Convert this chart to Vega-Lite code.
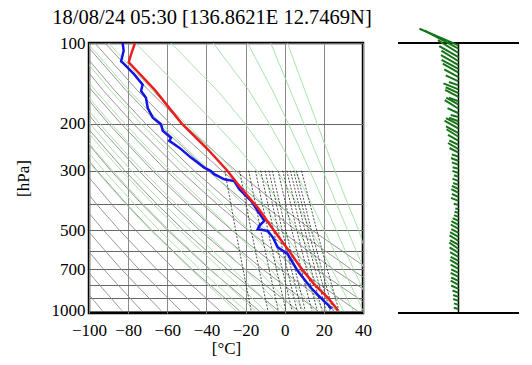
{
  "$schema": "https://vega.github.io/schema/vega-lite/v6.json",
  "padding": {"left": 12, "top": 6, "right": 0, "bottom": 0},
  "bounds": "flush",
  "spacing": 35,
  "config": {
    "font": "Liberation Serif",
    "axis": {"labelFont": "Liberation Serif", "titleFont": "Liberation Serif", "labelColor": "black", "titleColor": "black", "titleFontWeight": "normal", "labelFontSize": 17, "titleFontSize": 17},
    "title": {"font": "Liberation Serif", "fontWeight": "normal", "fontSize": 20.5, "color": "black"}
  },
  "datasets": {
    "dry": [
      {"th":180,"p":700,"t":-110.6},{"th":180,"p":850,"t":-101.3},{"th":180,"p":1000,"t":-93.15},
      {"th":190,"p":500,"t":-117.3},{"th":190,"p":700,"t":-101.6},{"th":190,"p":1000,"t":-83.15},
      {"th":200,"p":500,"t":-109.1},{"th":200,"p":700,"t":-92.55},{"th":200,"p":1000,"t":-73.15},
      {"th":210,"p":400,"t":-111.5},{"th":210,"p":500,"t":-100.9},{"th":210,"p":700,"t":-83.5},{"th":210,"p":1000,"t":-63.15},
      {"th":220,"p":400,"t":-103.8},{"th":220,"p":500,"t":-92.7},{"th":220,"p":700,"t":-74.5},{"th":220,"p":1000,"t":-53.15},
      {"th":230,"p":300,"t":-110.1},{"th":230,"p":400,"t":-96.1},{"th":230,"p":500,"t":-84.5},{"th":230,"p":700,"t":-65.45},{"th":230,"p":1000,"t":-43.15},
      {"th":240,"p":300,"t":-103.0},{"th":240,"p":400,"t":-88.4},{"th":240,"p":500,"t":-76.3},{"th":240,"p":700,"t":-56.4},{"th":240,"p":1000,"t":-33.15},
      {"th":250,"p":200,"t":-115.3},{"th":250,"p":300,"t":-95.9},{"th":250,"p":400,"t":-80.7},{"th":250,"p":500,"t":-68.1},{"th":250,"p":700,"t":-47.4},{"th":250,"p":1000,"t":-23.15},
      {"th":260,"p":200,"t":-109.0},{"th":260,"p":300,"t":-88.8},{"th":260,"p":400,"t":-73.0},{"th":260,"p":500,"t":-59.9},{"th":260,"p":700,"t":-38.4},{"th":260,"p":1000,"t":-13.15},
      {"th":270,"p":200,"t":-102.7},{"th":270,"p":300,"t":-81.7},{"th":270,"p":400,"t":-65.3},{"th":270,"p":500,"t":-51.7},{"th":270,"p":700,"t":-29.3},{"th":270,"p":1000,"t":-3.15},
      {"th":280,"p":150,"t":-110.3},{"th":280,"p":200,"t":-96.4},{"th":280,"p":300,"t":-74.6},{"th":280,"p":400,"t":-57.6},{"th":280,"p":500,"t":-43.5},{"th":280,"p":700,"t":-20.3},{"th":280,"p":1000,"t":6.85},
      {"th":290,"p":150,"t":-104.5},{"th":290,"p":200,"t":-90.1},{"th":290,"p":300,"t":-67.5},{"th":290,"p":400,"t":-49.9},{"th":290,"p":500,"t":-35.3},{"th":290,"p":700,"t":-11.3},{"th":290,"p":1000,"t":16.85},
      {"th":300,"p":100,"t":-117.8},{"th":300,"p":150,"t":-98.7},{"th":300,"p":200,"t":-83.7},{"th":300,"p":300,"t":-60.45},{"th":300,"p":400,"t":-42.2},{"th":300,"p":500,"t":-27.1},{"th":300,"p":700,"t":-2.25},{"th":300,"p":1000,"t":26.85},
      {"th":310,"p":100,"t":-112.6},{"th":310,"p":150,"t":-92.85},{"th":310,"p":200,"t":-77.4},{"th":310,"p":300,"t":-53.35},{"th":310,"p":400,"t":-34.5},{"th":310,"p":500,"t":-18.9},{"th":310,"p":700,"t":6.8},{"th":310,"p":1000,"t":36.85},
      {"th":320,"p":100,"t":-107.4},{"th":320,"p":150,"t":-87.05},{"th":320,"p":200,"t":-71.1},{"th":320,"p":300,"t":-46.3},{"th":320,"p":400,"t":-26.85},{"th":320,"p":500,"t":-10.7},{"th":320,"p":700,"t":15.8},{"th":320,"p":1000,"t":46.85},
      {"th":330,"p":100,"t":-102.2},{"th":330,"p":150,"t":-81.2},{"th":330,"p":200,"t":-64.8},{"th":330,"p":300,"t":-39.2},{"th":330,"p":400,"t":-19.15},{"th":330,"p":500,"t":-2.5},{"th":330,"p":700,"t":24.8},{"th":330,"p":1000,"t":56.85},
      {"th":340,"p":100,"t":-97.05},{"th":340,"p":150,"t":-75.4},{"th":340,"p":200,"t":-58.5},{"th":340,"p":300,"t":-32.1},{"th":340,"p":400,"t":-11.45},{"th":340,"p":500,"t":5.7},{"th":340,"p":700,"t":33.9},{"th":340,"p":1000,"t":66.85},
      {"th":350,"p":100,"t":-91.85},{"th":350,"p":150,"t":-69.6},{"th":350,"p":200,"t":-52.15},{"th":350,"p":300,"t":-25.0},{"th":350,"p":400,"t":-3.75},{"th":350,"p":500,"t":13.9},{"th":350,"p":700,"t":42.9},{"th":350,"p":1000,"t":76.85}
    ],
    "moist": [
      {"t0":-25,"p":1000,"t":-25},{"t0":-25,"p":850,"t":-35.55},{"t0":-25,"p":700,"t":-47.95},{"t0":-25,"p":500,"t":-68.55},{"t0":-25,"p":400,"t":-81.2},{"t0":-25,"p":300,"t":-96.35},{"t0":-25,"p":250,"t":-105.3},
      {"t0":-20,"p":1000,"t":-20},{"t0":-20,"p":850,"t":-30.8},{"t0":-20,"p":700,"t":-43.4},{"t0":-20,"p":500,"t":-64.2},{"t0":-20,"p":400,"t":-76.8},{"t0":-20,"p":300,"t":-92.3},{"t0":-20,"p":250,"t":-101.5},
      {"t0":-15,"p":1000,"t":-15},{"t0":-15,"p":850,"t":-25.6},{"t0":-15,"p":700,"t":-37.9},{"t0":-15,"p":500,"t":-59.1},{"t0":-15,"p":400,"t":-72.2},{"t0":-15,"p":300,"t":-88.0},{"t0":-15,"p":250,"t":-97.4},{"t0":-15,"p":200,"t":-108},
      {"t0":-10,"p":1000,"t":-10},{"t0":-10,"p":850,"t":-20.0},{"t0":-10,"p":700,"t":-32.5},{"t0":-10,"p":500,"t":-53.8},{"t0":-10,"p":400,"t":-67.2},{"t0":-10,"p":300,"t":-83.4},{"t0":-10,"p":250,"t":-93.1},{"t0":-10,"p":200,"t":-104.2},
      {"t0":-5,"p":1000,"t":-5},{"t0":-5,"p":850,"t":-14.4},{"t0":-5,"p":700,"t":-26.6},{"t0":-5,"p":500,"t":-48.0},{"t0":-5,"p":400,"t":-61.8},{"t0":-5,"p":300,"t":-78.3},{"t0":-5,"p":250,"t":-88.2},{"t0":-5,"p":200,"t":-99.6},{"t0":-5,"p":150,"t":-113.3},
      {"t0":0,"p":1000,"t":0},{"t0":0,"p":850,"t":-9.0},{"t0":0,"p":700,"t":-20.4},{"t0":0,"p":600,"t":-30.1},{"t0":0,"p":500,"t":-41.8},{"t0":0,"p":400,"t":-55.5},{"t0":0,"p":300,"t":-72.6},{"t0":0,"p":250,"t":-82.8},{"t0":0,"p":200,"t":-94.6},{"t0":0,"p":150,"t":-108.7},
      {"t0":5,"p":1000,"t":5},{"t0":5,"p":925,"t":1.3},{"t0":5,"p":850,"t":-3.3},{"t0":5,"p":700,"t":-14.0},{"t0":5,"p":600,"t":-23.1},{"t0":5,"p":500,"t":-34.6},{"t0":5,"p":400,"t":-48.6},{"t0":5,"p":300,"t":-66.1},{"t0":5,"p":250,"t":-76.6},{"t0":5,"p":200,"t":-88.7},{"t0":5,"p":150,"t":-103.3},
      {"t0":10,"p":1000,"t":10},{"t0":10,"p":925,"t":6.4},{"t0":10,"p":850,"t":2.5},{"t0":10,"p":700,"t":-7.3},{"t0":10,"p":600,"t":-15.8},{"t0":10,"p":500,"t":-26.7},{"t0":10,"p":400,"t":-40.55},{"t0":10,"p":300,"t":-58.3},{"t0":10,"p":250,"t":-69.2},{"t0":10,"p":200,"t":-81.8},{"t0":10,"p":150,"t":-96.9},{"t0":10,"p":100,"t":-116.1},
      {"t0":15,"p":1000,"t":15},{"t0":15,"p":925,"t":11.75},{"t0":15,"p":850,"t":8.1},{"t0":15,"p":700,"t":-0.75},{"t0":15,"p":600,"t":-8.35},{"t0":15,"p":500,"t":-18.35},{"t0":15,"p":400,"t":-31.35},{"t0":15,"p":300,"t":-49.25},{"t0":15,"p":250,"t":-60.45},{"t0":15,"p":200,"t":-73.45},{"t0":15,"p":150,"t":-89.2},{"t0":15,"p":100,"t":-109.3},
      {"t0":20,"p":1000,"t":20},{"t0":20,"p":925,"t":17.05},{"t0":20,"p":850,"t":13.75},{"t0":20,"p":700,"t":5.85},{"t0":20,"p":600,"t":-0.9},{"t0":20,"p":500,"t":-9.6},{"t0":20,"p":400,"t":-21.3},{"t0":20,"p":300,"t":-38.4},{"t0":20,"p":250,"t":-49.65},{"t0":20,"p":200,"t":-63.1},{"t0":20,"p":150,"t":-79.65},{"t0":20,"p":100,"t":-100.8},
      {"t0":25,"p":1000,"t":25},{"t0":25,"p":925,"t":22.25},{"t0":25,"p":850,"t":19.3},{"t0":25,"p":700,"t":12.15},{"t0":25,"p":600,"t":6.2},{"t0":25,"p":500,"t":-1.35},{"t0":25,"p":400,"t":-11.25},{"t0":25,"p":300,"t":-26.2},{"t0":25,"p":250,"t":-36.95},{"t0":25,"p":200,"t":-50.55},{"t0":25,"p":150,"t":-67.75},{"t0":25,"p":100,"t":-90.05},
      {"t0":30,"p":1000,"t":30},{"t0":30,"p":925,"t":27.45},{"t0":30,"p":850,"t":24.7},{"t0":30,"p":700,"t":18.25},{"t0":30,"p":600,"t":13.0},{"t0":30,"p":500,"t":6.45},{"t0":30,"p":400,"t":-2.05},{"t0":30,"p":300,"t":-14.25},{"t0":30,"p":250,"t":-23.2},{"t0":30,"p":200,"t":-35.45},{"t0":30,"p":150,"t":-52.55},{"t0":30,"p":100,"t":-76.25},
      {"t0":35,"p":1000,"t":35},{"t0":35,"p":925,"t":32.65},{"t0":35,"p":850,"t":30.05},{"t0":35,"p":700,"t":24.1},{"t0":35,"p":600,"t":19.35},{"t0":35,"p":500,"t":13.6},{"t0":35,"p":400,"t":6.35},{"t0":35,"p":300,"t":-3.7},{"t0":35,"p":250,"t":-10.8},{"t0":35,"p":200,"t":-20.25},{"t0":35,"p":150,"t":-34.6},{"t0":35,"p":100,"t":-58.15},
      {"t0":40,"p":1000,"t":40},{"t0":40,"p":925,"t":37.85},{"t0":40,"p":850,"t":35.35},{"t0":40,"p":700,"t":29.8},{"t0":40,"p":600,"t":25.4},{"t0":40,"p":500,"t":20.2},{"t0":40,"p":400,"t":13.75},{"t0":40,"p":300,"t":5.2},{"t0":40,"p":250,"t":-0.5},{"t0":40,"p":200,"t":-7.85},{"t0":40,"p":150,"t":-18.4},{"t0":40,"p":100,"t":-36.55},
      {"t0":45,"p":1000,"t":45},{"t0":45,"p":925,"t":42.85},{"t0":45,"p":850,"t":40.5},{"t0":45,"p":700,"t":35.25},{"t0":45,"p":600,"t":31.05},{"t0":45,"p":500,"t":26.3},{"t0":45,"p":400,"t":20.4},{"t0":45,"p":300,"t":12.8},{"t0":45,"p":250,"t":7.95},{"t0":45,"p":200,"t":1.85},{"t0":45,"p":150,"t":-6.3},{"t0":45,"p":100,"t":-19.0},
      {"t0":50,"p":1000,"t":50},{"t0":50,"p":850,"t":45.65},{"t0":50,"p":700,"t":40.6},{"t0":50,"p":600,"t":36.6},{"t0":50,"p":500,"t":32.1},{"t0":50,"p":400,"t":26.55},{"t0":50,"p":300,"t":19.55},{"t0":50,"p":250,"t":15.1},{"t0":50,"p":200,"t":9.75},{"t0":50,"p":150,"t":2.8},{"t0":50,"p":100,"t":-7.2},
      {"t0":55,"p":850,"t":50.5},{"t0":55,"p":700,"t":45.5},{"t0":55,"p":600,"t":41.35},{"t0":55,"p":500,"t":37.75},{"t0":55,"p":400,"t":32.3},{"t0":55,"p":300,"t":25.6},{"t0":55,"p":250,"t":21.5},{"t0":55,"p":200,"t":16.55},{"t0":55,"p":150,"t":10.25},{"t0":55,"p":100,"t":1.4}
    ],
    "mix": [
      {"w":1,"p":300,"t":-30.61},{"w":1,"p":500,"t":-25.09},{"w":1,"p":700,"t":-21.3},{"w":1,"p":1000,"t":-17.13},
      {"w":2,"p":300,"t":-23.07},{"w":2,"p":500,"t":-17.15},{"w":2,"p":700,"t":-13.07},{"w":2,"p":1000,"t":-8.58},
      {"w":3,"p":300,"t":-18.41},{"w":3,"p":500,"t":-12.23},{"w":3,"p":700,"t":-7.97},{"w":3,"p":1000,"t":-3.28},
      {"w":4,"p":300,"t":-15.0},{"w":4,"p":500,"t":-8.62},{"w":4,"p":700,"t":-4.23},{"w":4,"p":1000,"t":0.61},
      {"w":5,"p":300,"t":-12.27},{"w":5,"p":500,"t":-5.75},{"w":5,"p":700,"t":-1.24},{"w":5,"p":1000,"t":3.72},
      {"w":6,"p":300,"t":-10.01},{"w":6,"p":500,"t":-3.35},{"w":6,"p":700,"t":1.25},{"w":6,"p":1000,"t":6.32},
      {"w":7,"p":300,"t":-8.06},{"w":7,"p":500,"t":-1.29},{"w":7,"p":700,"t":3.39},{"w":7,"p":1000,"t":8.55},
      {"w":8,"p":300,"t":-6.35},{"w":8,"p":500,"t":0.53},{"w":8,"p":700,"t":5.27},{"w":8,"p":1000,"t":10.51},
      {"w":10,"p":300,"t":-3.43},{"w":10,"p":500,"t":3.61},{"w":10,"p":700,"t":8.48},{"w":10,"p":1000,"t":13.85},
      {"w":12,"p":300,"t":-1.01},{"w":12,"p":500,"t":6.18},{"w":12,"p":700,"t":11.15},{"w":12,"p":1000,"t":16.64},
      {"w":14,"p":300,"t":1.07},{"w":14,"p":500,"t":8.38},{"w":14,"p":700,"t":13.45},{"w":14,"p":1000,"t":19.04},
      {"w":16,"p":300,"t":2.9},{"w":16,"p":500,"t":10.32},{"w":16,"p":700,"t":15.46},{"w":16,"p":1000,"t":21.14},
      {"w":18,"p":300,"t":4.53},{"w":18,"p":500,"t":12.05},{"w":18,"p":700,"t":17.26},{"w":18,"p":1000,"t":23.02},
      {"w":20,"p":300,"t":6.0},{"w":20,"p":500,"t":13.61},{"w":20,"p":700,"t":18.89},{"w":20,"p":1000,"t":24.72},
      {"w":24,"p":300,"t":8.57},{"w":24,"p":500,"t":16.35},{"w":24,"p":700,"t":21.74},{"w":24,"p":1000,"t":27.7}
    ],
    "temp": [
      {"p":100,"t":-76.5},{"p":109,"t":-78.3},{"p":118,"t":-79.7},{"p":150,"t":-66.3},{"p":200,"t":-52.6},{"p":250,"t":-39.2},
      {"p":300,"t":-29.3},{"p":342,"t":-23.2},{"p":412,"t":-13.8},{"p":504,"t":-5.3},{"p":599,"t":2.3},{"p":692,"t":8.3},
      {"p":797,"t":15.1},{"p":894,"t":22.0},{"p":974,"t":26.2},{"p":1000,"t":27.2}
    ],
    "dewp": [
      {"p":100,"t":-82.8},{"p":107,"t":-82.3},{"p":117,"t":-83.6},{"p":120,"t":-82.0},{"p":131,"t":-76.9},{"p":143,"t":-72.6},
      {"p":151,"t":-73.4},{"p":160,"t":-70.9},{"p":175,"t":-70.0},{"p":190,"t":-67.4},{"p":201,"t":-63.2},{"p":213,"t":-62.3},
      {"p":226,"t":-58.1},{"p":232,"t":-59.0},{"p":246,"t":-53.9},{"p":268,"t":-47.9},{"p":292,"t":-41.1},{"p":301,"t":-37.7},
      {"p":309,"t":-36.0},{"p":323,"t":-30.9},{"p":328,"t":-25.8},{"p":352,"t":-23.2},{"p":389,"t":-17.2},{"p":462,"t":-10.4},
      {"p":482,"t":-13.0},{"p":496,"t":-13.8},{"p":503,"t":-8.7},{"p":532,"t":-6.1},{"p":580,"t":-3.6},{"p":614,"t":1.5},
      {"p":710,"t":6.6},{"p":821,"t":13.4},{"p":922,"t":20.2},{"p":962,"t":22.8},{"p":985,"t":23.8}
    ],
    "wind": [
      {"p":102,"spd":21,"dir":113},{"p":105,"spd":19,"dir":118},{"p":109,"spd":12,"dir":122},{"p":113,"spd":11,"dir":120},
      {"p":117,"spd":10,"dir":122},{"p":121,"spd":10,"dir":120},{"p":125,"spd":9.5,"dir":118},{"p":129,"spd":9,"dir":120},
      {"p":134,"spd":8,"dir":118},{"p":139,"spd":7,"dir":115},{"p":144,"spd":5,"dir":110},{"p":149,"spd":8,"dir":112},
      {"p":154,"spd":7,"dir":115},{"p":159,"spd":7.5,"dir":118},{"p":165,"spd":5,"dir":110},{"p":170,"spd":7,"dir":120},
      {"p":176,"spd":8,"dir":122},{"p":183,"spd":6,"dir":115},{"p":189,"spd":4,"dir":105},{"p":196,"spd":5,"dir":110},
      {"p":202,"spd":7,"dir":118},{"p":209,"spd":8,"dir":120},{"p":217,"spd":7,"dir":118},{"p":224,"spd":7,"dir":122},
      {"p":232,"spd":6,"dir":120},{"p":240,"spd":5,"dir":115},{"p":249,"spd":6,"dir":120},{"p":257,"spd":5,"dir":118},
      {"p":266,"spd":3.5,"dir":110},{"p":276,"spd":4,"dir":112},{"p":285,"spd":3.5,"dir":110},{"p":295,"spd":3,"dir":105},
      {"p":306,"spd":3.2,"dir":110},{"p":316,"spd":2.4,"dir":108},{"p":328,"spd":3.2,"dir":112},{"p":339,"spd":2.8,"dir":110},
      {"p":351,"spd":3.6,"dir":115},{"p":363,"spd":4,"dir":118},{"p":376,"spd":3.6,"dir":115},{"p":389,"spd":4,"dir":112},
      {"p":403,"spd":2.4,"dir":105},{"p":417,"spd":1.6,"dir":100},{"p":431,"spd":2,"dir":105},{"p":446,"spd":2.4,"dir":110},
      {"p":462,"spd":3.2,"dir":115},{"p":478,"spd":4,"dir":118},{"p":495,"spd":4.4,"dir":120},{"p":512,"spd":4,"dir":118},
      {"p":530,"spd":4.8,"dir":120},{"p":549,"spd":5.2,"dir":122},{"p":568,"spd":4.8,"dir":120},{"p":588,"spd":5.6,"dir":125},
      {"p":608,"spd":5.2,"dir":122},{"p":630,"spd":4.8,"dir":120},{"p":652,"spd":4.4,"dir":118},{"p":674,"spd":4.8,"dir":120},
      {"p":698,"spd":4.4,"dir":118},{"p":722,"spd":4,"dir":115},{"p":748,"spd":4.4,"dir":118},{"p":774,"spd":4,"dir":115},
      {"p":801,"spd":4.4,"dir":118},{"p":829,"spd":4,"dir":115},{"p":858,"spd":3.2,"dir":112},{"p":888,"spd":2.8,"dir":110},
      {"p":919,"spd":2.8,"dir":110},{"p":951,"spd":2.4,"dir":108},{"p":985,"spd":2.4,"dir":105}
    ]
  },
  "resolve": {"scale": {"x": "independent", "y": "independent"}},
  "hconcat": [
    {
      "width": 274,
      "height": 270,
      "view": {"stroke": "black", "strokeWidth": 2.5},
      "title": {"text": "18/08/24 05:30 [136.8621E 12.7469N]", "frame": "group", "anchor": "middle", "dx": -14, "offset": 6},
      "encoding": {
        "x": {
          "field": "t", "type": "quantitative",
          "scale": {"domain": [-100, 40], "nice": false, "zero": false},
          "axis": {"values": [-100, -80, -60, -40, -20, 0, 20, 40], "grid": true, "gridColor": "#8a8a8a", "gridWidth": 1, "ticks": false, "domain": false, "labelPadding": 9, "labelFlush": false, "labelOverlap": false, "title": "[°C]", "titlePadding": 2}
        },
        "y": {
          "field": "p", "type": "quantitative",
          "scale": {"type": "log", "domain": [100, 1020], "reverse": true, "nice": false},
          "axis": {"values": [100, 200, 300, 400, 500, 600, 700, 800, 900, 1000], "format": "d", "labelExpr": "indexof([100, 200, 300, 500, 700, 1000], datum.value) >= 0 ? datum.label : ''", "grid": true, "gridColor": "#666666", "gridWidth": 1, "ticks": false, "domain": false, "labelPadding": 4, "labelFlush": false, "labelOverlap": false, "title": "[hPa]", "titlePadding": 19}
        }
      },
      "layer": [
        {"data": {"name": "dry"}, "mark": {"type": "line", "clip": true, "color": "#8c8c8c", "strokeWidth": 0.9}, "encoding": {"detail": {"field": "th", "type": "nominal"}, "order": {"field": "p", "type": "quantitative"}}},
        {"data": {"name": "moist"}, "mark": {"type": "line", "clip": true, "color": "#a3dfa3", "strokeWidth": 0.9}, "encoding": {"detail": {"field": "t0", "type": "nominal"}, "order": {"field": "p", "type": "quantitative"}}},
        {"data": {"name": "mix"}, "mark": {"type": "line", "clip": true, "color": "#222222", "strokeWidth": 0.8, "strokeDash": [2, 1.5]}, "encoding": {"detail": {"field": "w", "type": "nominal"}, "order": {"field": "p", "type": "quantitative"}}},
        {"data": {"name": "dewp"}, "mark": {"type": "line", "clip": true, "color": "#1414e6", "strokeWidth": 2.5}, "encoding": {"order": {"field": "p", "type": "quantitative"}}},
        {"data": {"name": "temp"}, "mark": {"type": "line", "clip": true, "color": "#ee1c1c", "strokeWidth": 2.5}, "encoding": {"order": {"field": "p", "type": "quantitative"}}}
      ]
    },
    {
      "width": 121,
      "height": 270,
      "view": {"stroke": null},
      "layer": [
        {"data": {"values": [{}]}, "mark": {"type": "rule", "color": "black", "strokeWidth": 2}, "encoding": {"y": {"datum": 100, "type": "quantitative", "scale": {"type": "log", "domain": [100, 1020], "reverse": true, "nice": false}, "axis": null}}},
        {"data": {"values": [{}]}, "mark": {"type": "rule", "color": "black", "strokeWidth": 2}, "encoding": {"y": {"datum": 1020, "type": "quantitative", "scale": {"type": "log", "domain": [100, 1020], "reverse": true, "nice": false}, "axis": null}}},
        {"data": {"values": [{}]}, "mark": {"type": "rule", "color": "black", "strokeWidth": 1.5}, "encoding": {"x": {"datum": 0, "type": "quantitative", "scale": {"domain": [-30, 30], "nice": false}, "axis": null}}},
        {
          "data": {"name": "wind"},
          "mark": {"type": "point", "shape": "M0,0L2,0", "filled": false, "opacity": 1, "stroke": "#177317", "strokeWidth": 2},
          "encoding": {
            "x": {"datum": 0, "type": "quantitative", "scale": {"domain": [-30, 30], "nice": false}, "axis": {"values": [-30, 0, 30], "grid": false, "ticks": false, "domain": false, "labelPadding": 9, "labelFlush": false, "title": "[m/s]", "titlePadding": 2}},
            "y": {"field": "p", "type": "quantitative", "scale": {"type": "log", "domain": [100, 1020], "reverse": true, "nice": false}, "axis": null},
            "size": {"field": "spd", "type": "quantitative", "scale": {"type": "pow", "exponent": 2, "domain": [0, 30], "range": [0, 3672]}, "legend": null},
            "angle": {"field": "dir", "type": "quantitative", "scale": {"domain": [0, 360], "range": [90, 450]}, "legend": null}
          }
        }
      ]
    }
  ]
}
